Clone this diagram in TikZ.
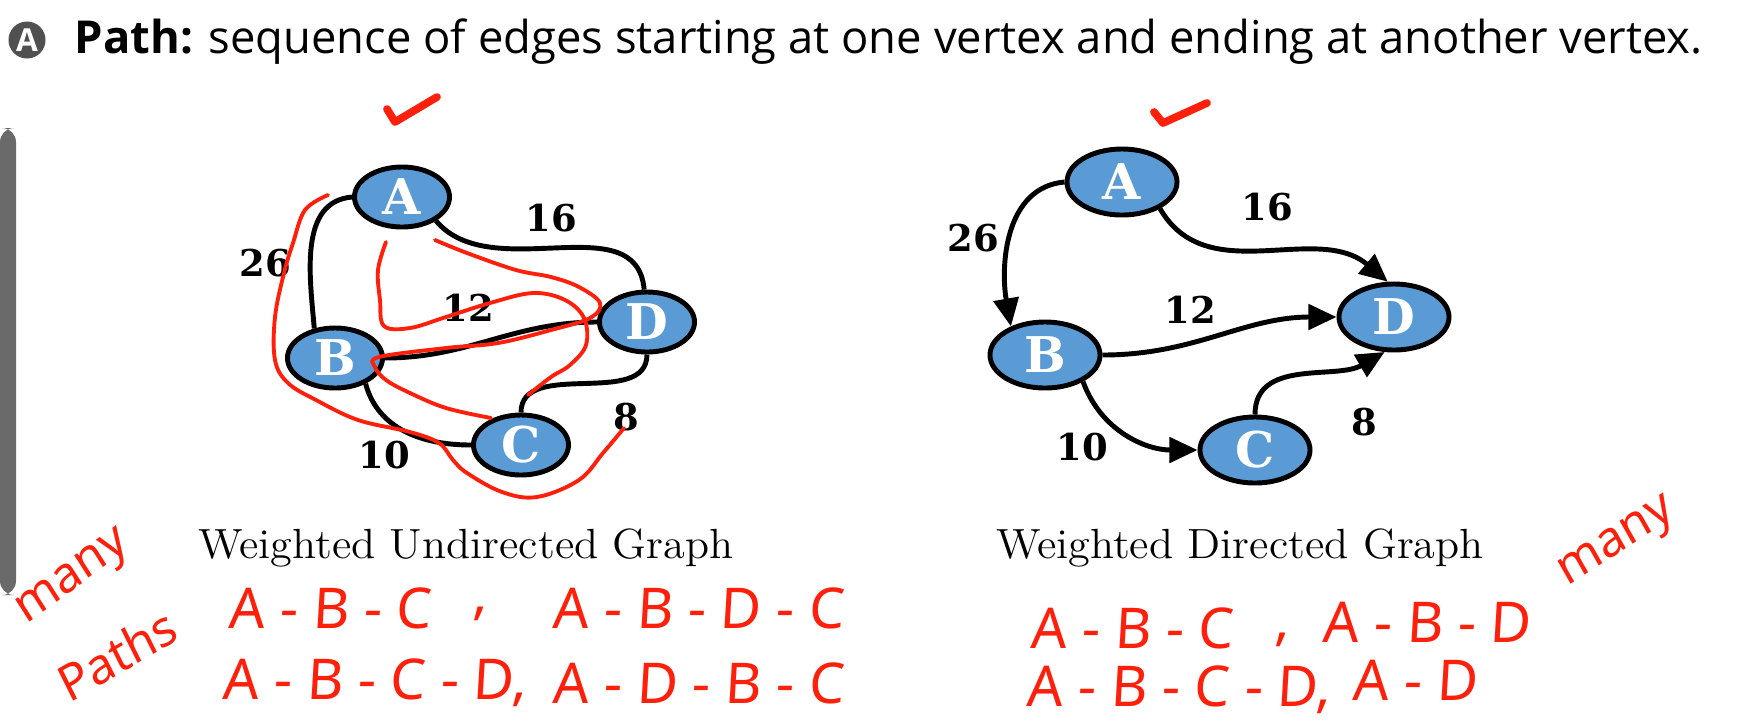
\documentclass[tikz,border=0pt]{standalone}
\usepackage{fontspec}
\usepackage{xcolor}
\usepackage{tikz}
\usetikzlibrary{arrows.meta,shapes.geometric}
\newfontfamily\titlefont{Open Sans}
\newfontfamily\vertexfont{DejaVu Serif}
\newfontfamily\handfont[FakeSlant=0.06]{Noto Sans}
\definecolor{vblue}{HTML}{5B9BD5}
\definecolor{ink}{HTML}{FF200C}
\definecolor{badge}{HTML}{505050}
\definecolor{sidebar}{HTML}{6A6A6A}

\begin{document}
\begin{tikzpicture}[
  x=0.01cm, y=-0.01cm,
  vtx/.style={ellipse, draw, line width=1.4pt, fill=vblue, text=white,
              inner sep=0pt, minimum width=0.95cm, minimum height=0.6cm,
              font=\vertexfont\bfseries\fontsize{14}{14}\selectfont},
  dvtx/.style={vtx, minimum width=1.1cm, minimum height=0.66cm},
  link/.style={line width=1.4pt},
  arc/.style={link, -{Triangle[length=2.8mm, width=2.5mm]}},
  wt/.style={font=\vertexfont\bfseries\fontsize{10.5}{11}\selectfont, inner sep=1pt},
  capt/.style={font=\fontsize{12}{13}\selectfont, inner sep=1pt},
  hand/.style={text=ink, font=\handfont\fontsize{16}{17}\selectfont, inner sep=0pt},
  note/.style={hand, font=\handfont\fontsize{14}{15}\selectfont},
  scrawl/.style={ink, line width=1.1pt, line cap=round, line join=round},
  tick/.style={ink, line width=2.2pt, line cap=round, line join=round},
]
\useasboundingbox (0,0) rectangle (1753,726);

%% ---- heading --------------------------------------------------------------
\fill[sidebar, rounded corners=4pt] (0,128) -- (16,128) -- (16,595) -- (0,595) -- cycle;
\node[circle, fill=badge, text=white, inner sep=0pt, minimum size=0.37cm,
      font=\titlefont\bfseries\fontsize{9}{9}\selectfont] (badgeA) at (27,40) {A};
\node[anchor=west, inner sep=0pt, font=\titlefont\fontsize{12.9}{15}\selectfont]
  (heading) at (74,42) {\textbf{Path:} sequence of edges starting at one vertex and ending at another vertex.};

%% ---- undirected graph -----------------------------------------------------
\node[vtx] (uA) at (402,197) {A};
\node[vtx] (uB) at (335,358) {B};
\node[vtx] (uD) at (647,322) {D};
\node[vtx] (uC) at (521,445) {C};

\draw[link] (uA.west) to[out=185,in=95] (uB.125);
\draw[link] (uA.-35) to[out=-50,in=95] (uD.95);
\draw[link] (uB.east) to[out=0,in=180] (uD.west);
\draw[link] (uB.-40) to[out=-75,in=180] (uC.west);
\draw[link] (uC.north) to[out=90,in=-90] (uD.south);

\node[wt] (wAB) at (265,263) {26};
\node[wt] (wAD) at (551,218) {16};
\node[wt] (wBD) at (468,308) {12};
\node[wt] (wBC) at (384,455) {10};
\node[wt] (wCD) at (626,417) {8};

\node[capt] (capU) at (466,548) {\scalebox{1.05}[1]{Weighted Undirected Graph}};

%% ---- directed graph -------------------------------------------------------
\node[dvtx] (dA) at (1122,182) {A};
\node[dvtx] (dB) at (1045,355) {B};
\node[dvtx] (dD) at (1394,317) {D};
\node[dvtx] (dC) at (1255,450) {C};

\draw[arc] (dA.west) to[out=185,in=100] (dB.140);
\draw[arc] (dA.-35) to[out=-60,in=140] (dD.100);
\draw[arc] (dB.east) to[out=0,in=180] (dD.west);
\draw[arc] (dB.-35) to[out=-70,in=180] (dC.west);
\draw[arc] (dC.north) to[out=90,in=-150] (dD.-105);

\node[wt] (vAB) at (973,238) {26};
\node[wt] (vAD) at (1267,207) {16};
\node[wt] (vBD) at (1190,310) {12};
\node[wt] (vBC) at (1082,447) {10};
\node[wt] (vCD) at (1364,422) {8};

\node[capt] (capD) at (1240,548) {\scalebox{1.05}[1]{Weighted Directed Graph}};

%% ---- pen marks over the undirected graph ----------------------------------
\draw[tick] (387,109) -- (395,122) -- (437,97);
\draw[scrawl] plot[smooth, tension=0.6] coordinates {(386,242) (378,270) (380,300) (384,326)
  (410,328) (446,317) (490,303) (533,293) (565,300) (584,318) (586,345) (570,365) (551,377) (528,395)};
\draw[scrawl] plot[smooth, tension=0.6] coordinates {(435,240) (467,253) (516,270) (551,277)
  (579,287) (600,303) (590,318) (551,330) (498,343) (446,348) (379,357) (375,367) (386,380)
  (410,393) (446,408) (491,418)};
\draw[scrawl] plot[smooth, tension=0.6] coordinates {(328,195) (305,210) (293,243) (284,273)
  (275,317) (275,360) (288,383) (316,400) (358,420) (410,432) (439,443) (453,460) (467,473)
  (502,492) (537,497) (579,480) (603,453) (624,428)};

%% ---- pen marks over the directed graph ------------------------------------
\draw[tick] (1154,112) -- (1163,123) -- (1207,103);

%% ---- paths written out ----------------------------------------------------
\node[hand, anchor=west] (pu1) at (228,608) {A - B - C};
\node[hand] (cu1) at (480,614) {,};
\node[hand, anchor=west] (pu2) at (552,608) {A - B - D - C};
\node[hand, anchor=west] (pu3) at (222,683) {A - B - C - D,};
\node[hand, anchor=west] (pu4) at (552,683) {A - D - B - C};
\node[note, rotate=36] (manyU) at (74,580) {many};
\node[note, rotate=30] (pathsU) at (116,655) {Paths};

\node[hand, anchor=west] (pd1) at (1030,628) {A - B - C};
\node[hand] (cd1) at (1282,640) {,};
\node[hand, anchor=west] (pd2) at (1322,622) {A - B - D};
\node[hand, anchor=west] (pd3) at (1026,690) {A - B - C - D,};
\node[hand, anchor=west] (pd4) at (1352,680) {A - D};
\node[note, rotate=33] (manyD) at (1618,545) {many};

\end{tikzpicture}
\end{document}
